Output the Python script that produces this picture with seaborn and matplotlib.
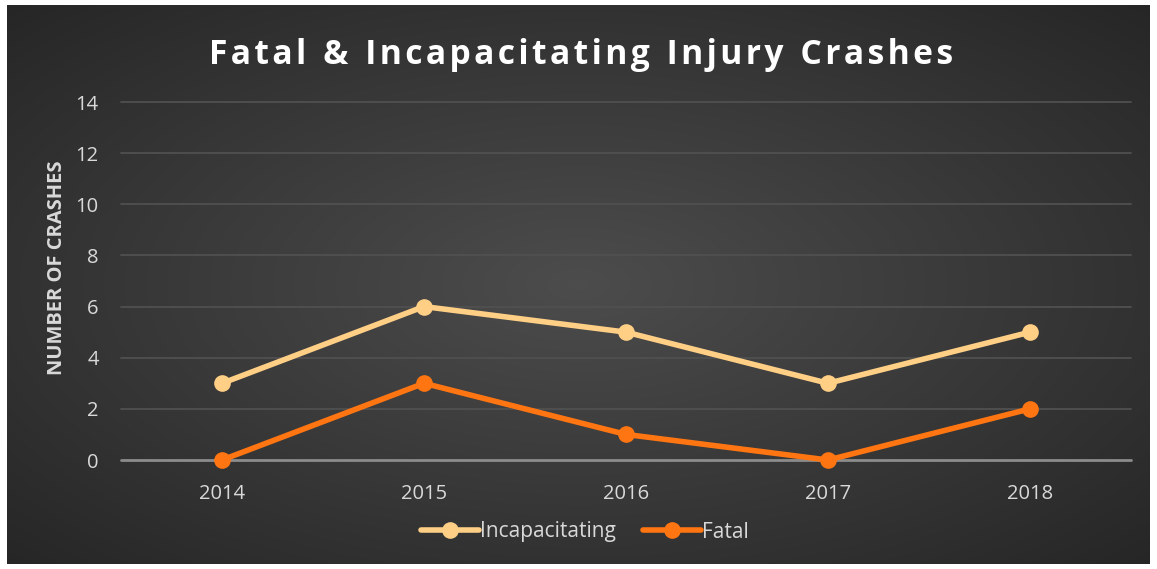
import numpy as np
import pandas as pd
import matplotlib
matplotlib.use("Agg")
import matplotlib.pyplot as plt
import seaborn as sns
from matplotlib.lines import Line2D

years = ["2014", "2015", "2016", "2017", "2018"]
incapacitating = [3, 6, 5, 3, 5]
fatal = [0, 3, 1, 0, 2]
series_names = ["Incapacitating", "Fatal"]
colors = ["#FFCF86", "#FF7512"]
yticks = [0, 2, 4, 6, 8, 10, 12, 14]

df = pd.DataFrame({
    "year": years * 2,
    "pos": list(range(len(years))) * 2,
    "value": incapacitating + fatal,
    "series": [series_names[0]] * len(years) + [series_names[1]] * len(years),
})

sns.set_theme(style="dark")
plt.rcParams["font.family"] = ["Open Sans", "DejaVu Sans"]

W, H = 1157, 569
fig = plt.figure(figsize=(W / 100, H / 100), dpi=100, facecolor="white")

# background panel with radial gradient
bg = fig.add_axes([7 / W, 1 - 564 / H, (1150 - 7) / W, (564 - 5) / H])
nx, ny = 400, 200
xx, yy = np.meshgrid(np.linspace(-1, 1, nx), np.linspace(-1, 1, ny))
r = np.sqrt(xx ** 2 + yy ** 2) / np.sqrt(2)
vals = 0.30 - 0.15 * r
img = np.dstack([vals, vals, vals])
bg.imshow(img, aspect="auto", extent=[0, 1, 0, 1], interpolation="bilinear")
bg.set_axis_off()

ax = fig.add_axes([121 / W, 1 - 460 / H, (1131 - 121) / W, (460 - 102) / H])
ax.patch.set_alpha(0)

sns.lineplot(data=df, x="pos", y="value", hue="series", palette=colors,
             hue_order=series_names, marker="o", markersize=12, linewidth=4,
             markeredgewidth=0, ax=ax, legend=False, zorder=3)

ax.set_xlim(-0.5, 4.5)
ax.set_ylim(0, 14)
ax.set_xticks(range(len(years)))
ax.set_xticklabels(years)
ax.set_yticks(yticks)
ax.set_yticklabels([str(v) for v in yticks])
ax.tick_params(colors="#D9D9D9", labelsize=14.5, length=0)
ax.tick_params(axis="x", pad=17)
ax.tick_params(axis="y", pad=16)
for s in ax.spines.values():
    s.set_visible(False)
ax.grid(False)
for v in yticks[1:]:
    ax.axhline(v, color="#505050", linewidth=1.3, zorder=1)
ax.axhline(0, color="#8C8C8C", linewidth=2, zorder=2)
for line in ax.lines:
    line.set_clip_on(False)

ax.set_xlabel("")
ax.set_ylabel("NUMBER OF CRASHES", color="#D9D9D9", fontsize=14.5,
              fontweight="bold")
ax.yaxis.set_label_coords(-(121 - 67) / (1131 - 121), (460 - 268) / (460 - 102))

title = "Fatal & Incapacitating Injury Crashes"
spaced = "\u200a".join(title).replace("\u200a \u200a", "\u2002")
fig.text(581 / W, 1 - 55 / H, spaced,
         ha="center", va="center", color="white", fontsize=24.2, fontweight="bold")

handles = [Line2D([0], [0], color=c, linewidth=4, marker="o", markersize=12,
                  markeredgewidth=0) for c in colors]
leg = fig.legend(handles, series_names, loc="center", bbox_to_anchor=(585 / W, 1 - 532 / H),
                 ncol=2, frameon=False, fontsize=15, handlelength=2.8,
                 handletextpad=0.05, columnspacing=1.3)
for t in leg.get_texts():
    t.set_color("#D9D9D9")

fig.savefig("out.png", dpi=100, facecolor="white")
